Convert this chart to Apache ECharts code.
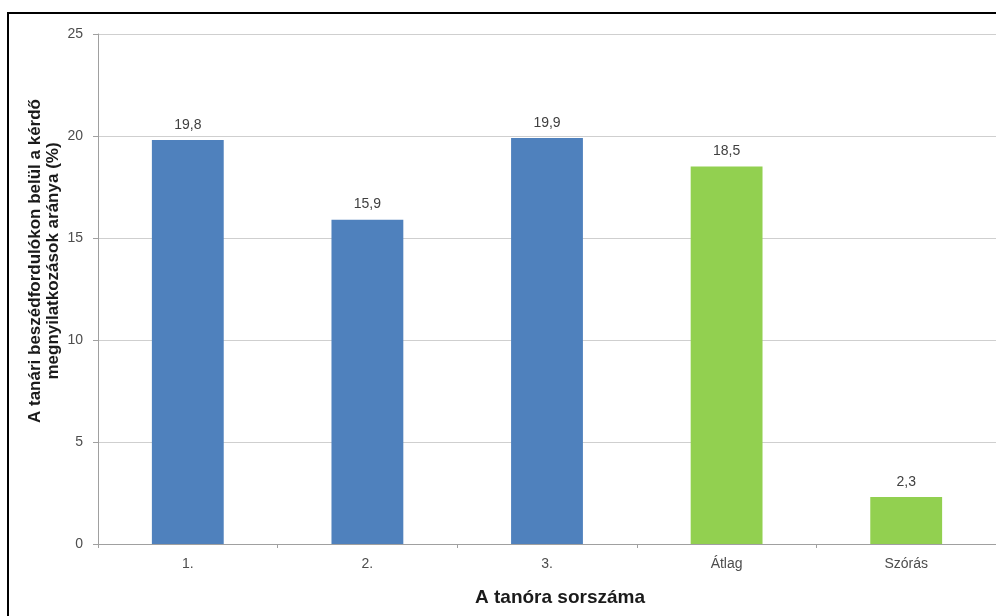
<!DOCTYPE html>
<html><head><meta charset="utf-8">
<script src="https://cdn.jsdelivr.net/npm/echarts@6/dist/echarts.min.js"></script>
<style>html,body{margin:0;padding:0;background:#fff}#c{width:996px;height:616px}</style>
</head><body><div id="c"></div>
<script>
const categories = ['1.', '2.', '3.', 'Átlag', 'Szórás'];
const values = [19.8, 15.9, 19.9, 18.5, 2.3];
const barColors = ['#4f81bd', '#4f81bd', '#4f81bd', '#92d050', '#92d050'];
const yTicks = [0, 5, 10, 15, 20, 25];
const yTitle = 'A tanári beszédfordulókon belül a kérdő\nmegnyilatkozások aránya (%)';
const xTitle = 'A tanóra sorszáma';

const chart = echarts.init(document.getElementById('c'));
chart.setOption({
  animation: false,
  graphic: [{
    type: 'rect', shape: {x: 8, y: 13, width: 1000, height: 620},
    style: {fill: 'none', stroke: '#000', lineWidth: 2}, z: 100
  }, {
    type: 'text', x: 44, y: 261, rotation: Math.PI / 2,
    style: {
      text: yTitle, fontFamily: 'Liberation Sans', fontSize: 17, fontWeight: 'bold',
      fill: '#1a1a1a', lineHeight: 18, align: 'center', verticalAlign: 'middle'
    }
  }, {
    type: 'text', x: 560, y: 598,
    style: {
      text: xTitle, fontFamily: 'Liberation Sans', fontSize: 19, fontWeight: 'bold',
      fill: '#1a1a1a', align: 'center', verticalAlign: 'middle'
    }
  }],
  grid: {left: 98, right: -2, top: 34, bottom: 72},
  xAxis: {
    type: 'category', data: categories,
    axisLine: {lineStyle: {color: '#a0a0a0'}},
    axisTick: {show: true, length: 4, lineStyle: {color: '#a0a0a0'}},
    axisLabel: {fontFamily: 'Liberation Sans', fontSize: 14, color: '#4d4d4d', margin: 13}
  },
  yAxis: {
    type: 'value', min: yTicks[0], max: yTicks[yTicks.length - 1], interval: 5,
    axisLine: {show: true, lineStyle: {color: '#a0a0a0'}},
    axisTick: {show: true, length: 5, lineStyle: {color: '#a0a0a0'}},
    axisLabel: {fontFamily: 'Liberation Sans', fontSize: 14, color: '#4d4d4d', margin: 15},
    splitLine: {lineStyle: {color: '#cfcfcf'}}
  },
  series: [{
    type: 'bar', barWidth: '40%',
    data: values.map((v, i) => ({value: v, itemStyle: {color: barColors[i]}})),
    label: {
      show: true, position: 'top', distance: 8,
      fontFamily: 'Liberation Sans', fontSize: 14, color: '#404040',
      formatter: p => String(p.value).replace('.', ',')
    }
  }]
});
</script></body></html>
